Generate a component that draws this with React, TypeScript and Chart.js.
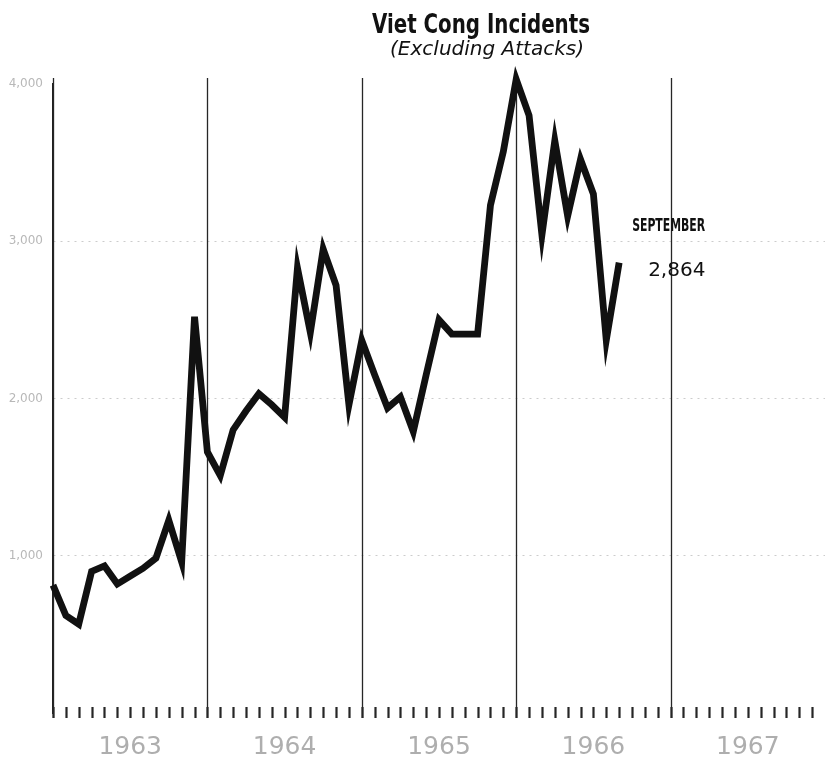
import React, { useEffect, useRef } from 'react';
import { Chart, registerables } from 'chart.js';

Chart.register(...registerables);

// ---- data ----
const years = ['1963', '1964', '1965', '1966', '1967'];
// Monthly incidents, Jan 1963 .. Sep 1966
const incidents = [
  813, 620, 565, 900, 935, 820, 870, 920, 985, 1225, 960, 2520,
  1660, 1510, 1800, 1920, 2030, 1960, 1880, 2830, 2420, 2950, 2720, 1960,
  2370, 2150, 1940, 2010, 1790, 2150, 2500, 2410, 2410, 2410, 3230, 3570,
  4030, 3800, 3040, 3640, 3160, 3520, 3300, 2370, 2864,
];
const yTickValues = [1000, 2000, 3000, 4000];
const yTickLabels = ['1,000', '2,000', '3,000', '4,000'];
const titleText = 'Viet Cong Incidents';
const subtitleText = '(Excluding Attacks)';
const lastMonthLabel = 'SEPTEMBER';
const lastValueLabel = '2,864';

const W = 825;
const H = 761;

function fitText(ctx: CanvasRenderingContext2D, text: string, x: number, y: number, width: number) {
  const m = ctx.measureText(text).width;
  const k = m > 0 ? width / m : 1;
  ctx.save();
  ctx.translate(x, y);
  ctx.scale(k, 1);
  ctx.fillText(text, 0, 0);
  ctx.restore();
}

const decorPlugin = {
  id: 'decor',
  beforeDatasetsDraw(chart: any) {
    const { ctx, chartArea, scales } = chart;
    const xs = scales.x;
    const total = years.length * 12;
    ctx.save();
    ctx.strokeStyle = '#262626';
    for (let i = 0; i < total; i++) {
      const px = Math.round(xs.getPixelForValue(i)) + 0.5;
      if (i % 12 === 0) {
        ctx.lineWidth = 1.3;
        ctx.beginPath();
        ctx.moveTo(px, chartArea.top - 6);
        ctx.lineTo(px, chartArea.bottom + 5);
        ctx.stroke();
      }
      ctx.lineWidth = 2.2;
      ctx.beginPath();
      ctx.moveTo(px, chartArea.bottom - 6);
      ctx.lineTo(px, chartArea.bottom + 5);
      ctx.stroke();
    }
    ctx.restore();
  },
  afterDraw(chart: any) {
    const { ctx } = chart;
    ctx.save();
    ctx.fillStyle = '#111';
    ctx.textBaseline = 'alphabetic';
    // title (condensed)
    ctx.textAlign = 'left';
    ctx.font = 'bold 27px "DejaVu Sans Condensed", "DejaVu Sans", sans-serif';
    fitText(ctx, titleText, 372, 33, 218);
    ctx.textAlign = 'center';
    ctx.font = 'italic 20px "DejaVu Sans", sans-serif';
    ctx.fillText(subtitleText, 487, 55);

    // end annotation
    const meta = chart.getDatasetMeta(0);
    const last = meta.data[meta.data.length - 1];
    if (last) {
      const px = last.x;
      const py = last.y;
      ctx.textAlign = 'left';
      ctx.textBaseline = 'alphabetic';
      ctx.font = 'bold 18px "DejaVu Sans Condensed", "DejaVu Sans", sans-serif';
      fitText(ctx, lastMonthLabel, px + 13, py - 32, 73);
      ctx.textBaseline = 'middle';
      ctx.font = '20px "DejaVu Sans", sans-serif';
      ctx.fillText(lastValueLabel, px + 29, py + 8);
    }
    ctx.restore();
  },
};

export default function App() {
  const ref = useRef<HTMLCanvasElement | null>(null);

  useEffect(() => {
    if (!ref.current) return;
    const data = incidents.map((v, i) => ({ x: i, y: v }));
    const chart = new Chart(ref.current, {
      type: 'line',
      data: {
        datasets: [
          {
            data,
            borderColor: '#111',
            borderWidth: 6.8,
            pointRadius: 0,
            tension: 0,
            borderJoinStyle: 'miter',
            borderCapStyle: 'butt',
            clip: false as any,
          } as any,
        ],
      },
      options: {
        responsive: false,
        animation: false,
        devicePixelRatio: 1,
        layout: { padding: { top: 84, left: 0, right: 0, bottom: 0 } },
        plugins: {
          legend: { display: false },
          tooltip: { enabled: false },
          title: { display: false },
        },
        scales: {
          x: {
            type: 'linear',
            min: 0,
            max: years.length * 12,
            grid: { display: false },
            border: { display: false },
            afterFit: (s: any) => {
              s.height = H - 713;
              s.paddingLeft = 0;
              s.paddingRight = 0;
            },
            ticks: {
              stepSize: 6,
              autoSkip: false,
              maxRotation: 0,
              padding: 11,
              color: '#aeaeae',
              font: { family: '"DejaVu Sans", sans-serif', size: 25 },
              callback: (v: any) => {
                const n = Number(v);
                return n % 12 === 6 ? years[(n - 6) / 12] : '';
              },
            },
          },
          y: {
            min: 0,
            max: 4000,
            afterFit: (s: any) => {
              s.width = 53;
            },
            grid: {
              drawTicks: false,
              lineWidth: 1,
              color: (c: any) =>
                c.tick && (c.tick.value === 0 || c.tick.value === 4000)
                  ? 'rgba(0,0,0,0)'
                  : 'rgba(0,0,0,0.2)',
            },
            border: { display: true, color: '#222', width: 1.5, dash: [2, 5] },
            ticks: {
              stepSize: 1000,
              padding: 10,
              color: '#b8b8b8',
              font: { family: '"DejaVu Sans", sans-serif', size: 12 },
              callback: (v: any) => {
                const idx = yTickValues.indexOf(Number(v));
                return idx >= 0 ? yTickLabels[idx] : '';
              },
            },
          },
        },
      } as any,
      plugins: [decorPlugin],
    });
    return () => chart.destroy();
  }, []);

  return (
    <div style={{ position: 'fixed', left: 0, top: 0, width: W, height: H, background: '#fff' }}>
      <canvas ref={ref} width={W} height={H} style={{ display: 'block' }} />
    </div>
  );
}
